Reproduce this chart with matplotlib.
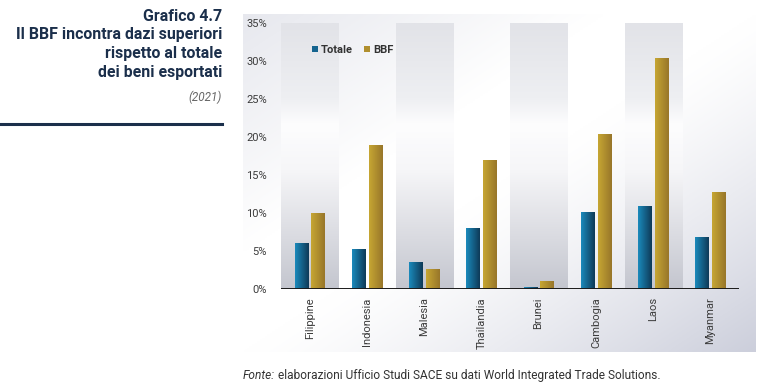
import numpy as np
import matplotlib
matplotlib.use("Agg")
import matplotlib.pyplot as plt
from matplotlib.colors import LinearSegmentedColormap

# data
paesi = ["Filippine", "Indonesia", "Malesia", "Thailandia", "Brunei", "Cambogia", "Laos", "Myanmar"]
totale = [6.1, 5.3, 3.5, 8.0, 0.25, 10.1, 10.9, 6.8]
bbf = [10.0, 18.9, 2.6, 17.0, 1.05, 20.4, 30.4, 12.8]
yticks = [0, 5, 10, 15, 20, 25, 30, 35]

NAVY = "#1b2f4b"
font = ["Roboto", "DejaVu Sans"]

W, H = 762, 384
fig = plt.figure(figsize=(W / 100, H / 100), dpi=100)
fig.patch.set_facecolor("white")

# grey gradient panel behind the chart
bg = fig.add_axes([243 / W, 1 - 352 / H, (756 - 243) / W, (352 - 14) / H])
xx, yy = np.meshgrid(np.linspace(0, 1, 200), np.linspace(0, 1, 200))  # yy: 0 top, 1 bottom
s = xx + yy
dark = 0.17 * np.clip((s - 1.0) / 1.0, 0, 1) ** 1.3 + 0.08 * np.clip((0.7 - s) / 0.7, 0, 1)
base = np.array([1.0, 1.0, 1.0])
tint = np.array([0.80, 0.81, 0.86])
img = base[None, None, :] - dark[:, :, None] * (base - tint)[None, None, :] / 0.17
img = np.clip(img, 0, 1)
bg.imshow(img, aspect="auto", extent=(0, 1, 1, 0))
bg.set_xlim(0, 1)
bg.set_ylim(1, 0)
bg.axis("off")

ax = fig.add_axes([281 / W, 1 - 289 / H, (739 - 281) / W, (289 - 23) / H])
ax.patch.set_alpha(0)
x = np.arange(len(paesi))

# alternating shaded bands
band_cmap = LinearSegmentedColormap.from_list(
    "band", [(0.0, "#c3c5ce"), (0.45, "#f6f6f8"), (0.62, "#fdfdfe"), (0.72, "#eeeff2"), (1.0, "#e2e3e8")])
grad_v = np.linspace(0, 1, 256).reshape(-1, 1)
for i in range(0, len(paesi), 2):
    ax.imshow(grad_v, cmap=band_cmap, aspect="auto", origin="lower",
              extent=(i - 0.5, i + 0.5, -0.25, 35), zorder=1)

w = 0.23
b1 = ax.bar(x - 0.145, totale, width=w, color="#15648f", zorder=3, label="Totale")
b2 = ax.bar(x + 0.145, bbf, width=w, color="#b08f2e", zorder=3, label="BBF")

leg = ax.legend(loc="upper left", bbox_to_anchor=(0.045, 0.955), ncol=2, frameon=False,
                handlelength=0.55, handleheight=0.55, handletextpad=0.3, columnspacing=1.0,
                prop={"family": font, "size": 8, "weight": "bold"})
for t in leg.get_texts():
    t.set_color("#333333")

# horizontal gradient on each bar
blue_cmap = LinearSegmentedColormap.from_list("blu", ["#1b8abb", "#0e3a58"])
gold_cmap = LinearSegmentedColormap.from_list("oro", ["#c6a633", "#98762a"])
grad_h = np.linspace(0, 1, 64).reshape(1, -1)
for bars, cm in ((b1, blue_cmap), (b2, gold_cmap)):
    for p in bars:
        x0, y0 = p.get_xy()
        im = ax.imshow(grad_h, cmap=cm, aspect="auto",
                       extent=(x0, x0 + p.get_width(), y0, y0 + p.get_height()), zorder=4)
        im.set_clip_path(p)
        p.set_alpha(0)

ax.axhline(0, color="#1a1a1a", lw=1.4, zorder=5)
ax.set_xlim(-0.5, len(paesi) - 0.5)
ax.set_ylim(0, 35)
ax.set_yticks(yticks)
ax.set_yticklabels([f"{v}%" for v in yticks], family=font, fontsize=8, color="#3c3c3c")
ax.set_xticks(x)
ax.set_xticklabels(paesi, rotation=90, family=font, fontsize=8, color="#3c3c3c")
ax.tick_params(length=0, pad=6)
ax.tick_params(axis="y", pad=10)
for sp in ax.spines.values():
    sp.set_visible(False)

# title block on the left
title_lines = ["Grafico 4.7", "Il BBF incontra dazi superiori", "rispetto al totale", "dei beni esportati"]
titles = []
for k, line in enumerate(title_lines):
    titles.append(fig.text(222 / W, 1 - (21 + 18.5 * k) / H, line, ha="right", va="baseline",
                           fontsize=12.5, fontweight="bold", color=NAVY, family=font))
fig.canvas.draw()
widest = max(t.get_window_extent().width for t in titles)
for t in titles:
    t.set_fontsize(12.5 * 206 / widest)

fig.text(222 / W, 1 - 101 / H, "(2021)", ha="right", va="baseline",
         fontsize=8.5, style="italic", color="#666666", family=font)
fig.add_artist(plt.Line2D([0, 222 / W], [1 - 124 / H, 1 - 124 / H], color=NAVY, lw=2.2))

t1 = fig.text(243 / W, 1 - 379 / H, "Fonte:", ha="left", va="baseline", fontsize=8.6,
              style="italic", color="#333333", family=font)
fig.canvas.draw()
bb = t1.get_window_extent()
fig.text(bb.x1 / W + 3 / W, 1 - 379 / H,
         "elaborazioni Ufficio Studi SACE su dati World Integrated Trade Solutions.",
         ha="left", va="baseline", fontsize=8.6, color="#333333", family=font)

fig.savefig("out.png", dpi=100)
